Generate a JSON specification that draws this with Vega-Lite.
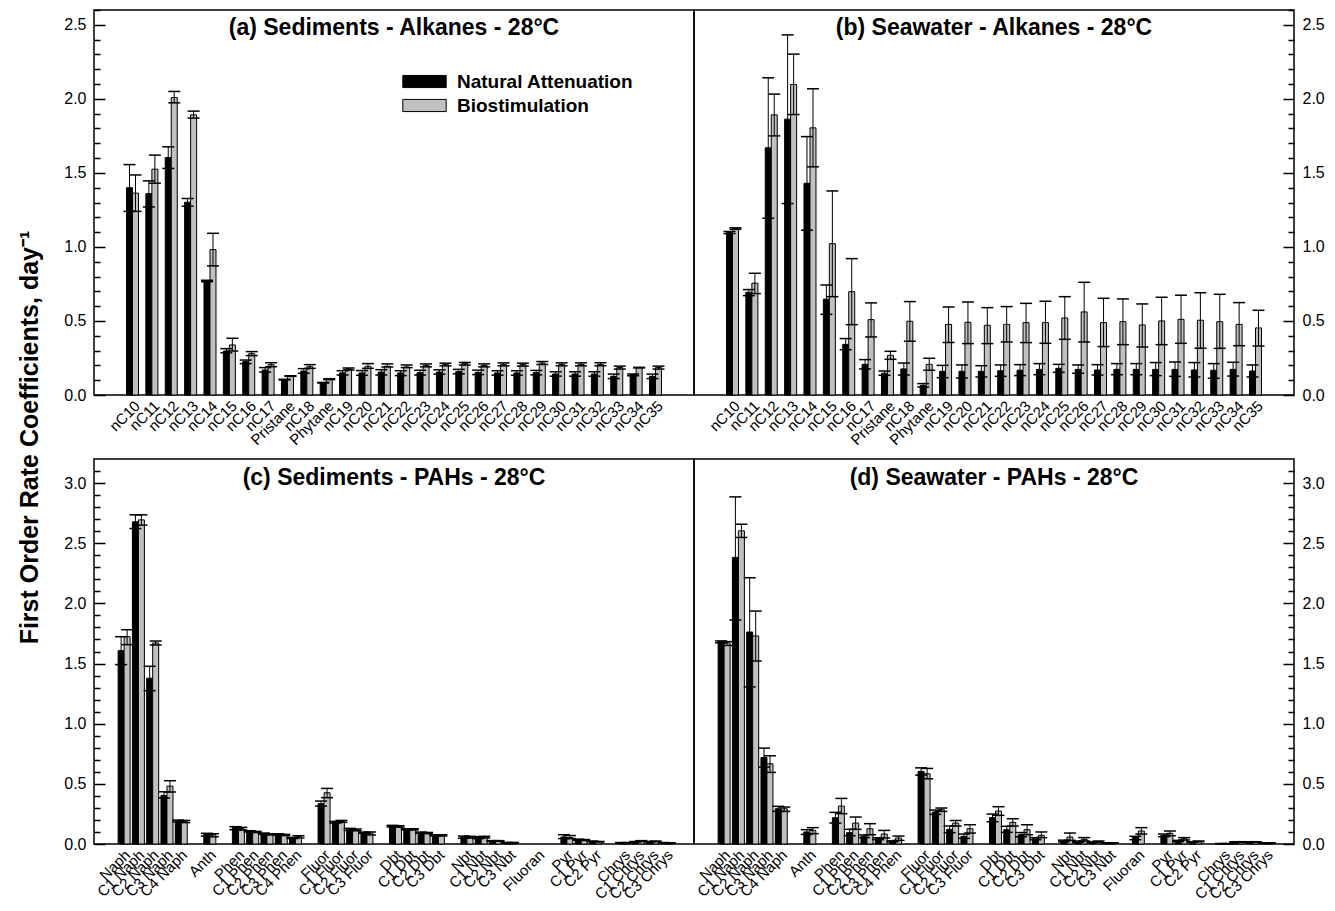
{
"$schema": "https://vega.github.io/schema/vega-lite/v6.json",
"background": "white",
"padding": {"left": 18, "top": 8, "right": 5, "bottom": 0},
"autosize": {"type": "pad"},
"config": {
  "font": "Liberation Sans",
  "view": {"stroke": "black", "strokeWidth": 1.5},
  "axis": {"labelColor": "black", "tickColor": "black", "grid": false, "domain": false}
},
"title": {"text": "First Order Rate Coefficients, day⁻¹", "orient": "left", "anchor": "middle", "fontSize": 25, "fontWeight": "bold", "font": "Liberation Sans", "color": "black", "offset": 20, "frame": "bounds", "dx": 18},
"datasets": {
"sedAlk": [
{"compound":"nC10","series":"Natural Attenuation","k":1.40,"lo":1.24,"hi":1.556},{"compound":"nC10","series":"Biostimulation","k":1.363,"lo":1.24,"hi":1.486},
{"compound":"nC11","series":"Natural Attenuation","k":1.36,"lo":1.27,"hi":1.446},{"compound":"nC11","series":"Biostimulation","k":1.525,"lo":1.43,"hi":1.62},
{"compound":"nC12","series":"Natural Attenuation","k":1.604,"lo":1.53,"hi":1.676},{"compound":"nC12","series":"Biostimulation","k":2.009,"lo":1.973,"hi":2.05},
{"compound":"nC13","series":"Natural Attenuation","k":1.302,"lo":1.275,"hi":1.327},{"compound":"nC13","series":"Biostimulation","k":1.892,"lo":1.87,"hi":1.917},
{"compound":"nC14","series":"Natural Attenuation","k":0.77,"lo":0.765,"hi":0.775},{"compound":"nC14","series":"Biostimulation","k":0.982,"lo":0.872,"hi":1.092},
{"compound":"nC15","series":"Natural Attenuation","k":0.297,"lo":0.285,"hi":0.313},{"compound":"nC15","series":"Biostimulation","k":0.338,"lo":0.297,"hi":0.383},
{"compound":"nC16","series":"Natural Attenuation","k":0.225,"lo":0.212,"hi":0.236},{"compound":"nC16","series":"Biostimulation","k":0.279,"lo":0.266,"hi":0.293},
{"compound":"nC17","series":"Natural Attenuation","k":0.169,"lo":0.155,"hi":0.185},{"compound":"nC17","series":"Biostimulation","k":0.205,"lo":0.191,"hi":0.218},
{"compound":"Pristane","series":"Natural Attenuation","k":0.104,"lo":0.102,"hi":0.106},{"compound":"Pristane","series":"Biostimulation","k":0.128,"lo":0.126,"hi":0.13},
{"compound":"nC18","series":"Natural Attenuation","k":0.162,"lo":0.147,"hi":0.178},{"compound":"nC18","series":"Biostimulation","k":0.191,"lo":0.18,"hi":0.205},
{"compound":"Phytane","series":"Natural Attenuation","k":0.083,"lo":0.081,"hi":0.085},{"compound":"Phytane","series":"Biostimulation","k":0.106,"lo":0.104,"hi":0.11},
{"compound":"nC19","series":"Natural Attenuation","k":0.149,"lo":0.135,"hi":0.164},{"compound":"nC19","series":"Biostimulation","k":0.176,"lo":0.169,"hi":0.183},
{"compound":"nC20","series":"Natural Attenuation","k":0.149,"lo":0.133,"hi":0.165},{"compound":"nC20","series":"Biostimulation","k":0.194,"lo":0.18,"hi":0.212},
{"compound":"nC21","series":"Natural Attenuation","k":0.155,"lo":0.135,"hi":0.171},{"compound":"nC21","series":"Biostimulation","k":0.194,"lo":0.189,"hi":0.21},
{"compound":"nC22","series":"Natural Attenuation","k":0.149,"lo":0.131,"hi":0.164},{"compound":"nC22","series":"Biostimulation","k":0.189,"lo":0.185,"hi":0.203},
{"compound":"nC23","series":"Natural Attenuation","k":0.151,"lo":0.135,"hi":0.167},{"compound":"nC23","series":"Biostimulation","k":0.2,"lo":0.19,"hi":0.21},
{"compound":"nC24","series":"Natural Attenuation","k":0.155,"lo":0.14,"hi":0.17},{"compound":"nC24","series":"Biostimulation","k":0.207,"lo":0.197,"hi":0.215},
{"compound":"nC25","series":"Natural Attenuation","k":0.158,"lo":0.143,"hi":0.173},{"compound":"nC25","series":"Biostimulation","k":0.212,"lo":0.202,"hi":0.22},
{"compound":"nC26","series":"Natural Attenuation","k":0.153,"lo":0.138,"hi":0.168},{"compound":"nC26","series":"Biostimulation","k":0.2,"lo":0.19,"hi":0.21},
{"compound":"nC27","series":"Natural Attenuation","k":0.149,"lo":0.134,"hi":0.164},{"compound":"nC27","series":"Biostimulation","k":0.207,"lo":0.197,"hi":0.217},
{"compound":"nC28","series":"Natural Attenuation","k":0.149,"lo":0.134,"hi":0.164},{"compound":"nC28","series":"Biostimulation","k":0.205,"lo":0.195,"hi":0.215},
{"compound":"nC29","series":"Natural Attenuation","k":0.151,"lo":0.136,"hi":0.166},{"compound":"nC29","series":"Biostimulation","k":0.216,"lo":0.206,"hi":0.226},
{"compound":"nC30","series":"Natural Attenuation","k":0.142,"lo":0.127,"hi":0.157},{"compound":"nC30","series":"Biostimulation","k":0.207,"lo":0.197,"hi":0.217},
{"compound":"nC31","series":"Natural Attenuation","k":0.142,"lo":0.127,"hi":0.157},{"compound":"nC31","series":"Biostimulation","k":0.207,"lo":0.197,"hi":0.217},
{"compound":"nC32","series":"Natural Attenuation","k":0.142,"lo":0.127,"hi":0.157},{"compound":"nC32","series":"Biostimulation","k":0.207,"lo":0.197,"hi":0.217},
{"compound":"nC33","series":"Natural Attenuation","k":0.126,"lo":0.111,"hi":0.141},{"compound":"nC33","series":"Biostimulation","k":0.185,"lo":0.175,"hi":0.195},
{"compound":"nC34","series":"Natural Attenuation","k":0.137,"lo":0.13,"hi":0.142},{"compound":"nC34","series":"Biostimulation","k":0.185,"lo":0.183,"hi":0.187},
{"compound":"nC35","series":"Natural Attenuation","k":0.126,"lo":0.111,"hi":0.141},{"compound":"nC35","series":"Biostimulation","k":0.185,"lo":0.175,"hi":0.195}
],
"seaAlk": [
{"compound":"nC10","series":"Natural Attenuation","k":1.097,"lo":1.09,"hi":1.104},{"compound":"nC10","series":"Biostimulation","k":1.124,"lo":1.119,"hi":1.129},
{"compound":"nC11","series":"Natural Attenuation","k":0.694,"lo":0.671,"hi":0.712},{"compound":"nC11","series":"Biostimulation","k":0.755,"lo":0.685,"hi":0.822},
{"compound":"nC12","series":"Natural Attenuation","k":1.669,"lo":1.194,"hi":2.142},{"compound":"nC12","series":"Biostimulation","k":1.892,"lo":1.75,"hi":2.032},
{"compound":"nC13","series":"Natural Attenuation","k":1.863,"lo":1.293,"hi":2.432},{"compound":"nC13","series":"Biostimulation","k":2.097,"lo":1.894,"hi":2.302},
{"compound":"nC14","series":"Natural Attenuation","k":1.43,"lo":1.113,"hi":1.745},{"compound":"nC14","series":"Biostimulation","k":1.804,"lo":1.541,"hi":2.068},
{"compound":"nC15","series":"Natural Attenuation","k":0.647,"lo":0.545,"hi":0.743},{"compound":"nC15","series":"Biostimulation","k":1.022,"lo":0.664,"hi":1.378},
{"compound":"nC16","series":"Natural Attenuation","k":0.342,"lo":0.306,"hi":0.381},{"compound":"nC16","series":"Biostimulation","k":0.698,"lo":0.475,"hi":0.921},
{"compound":"nC17","series":"Natural Attenuation","k":0.207,"lo":0.176,"hi":0.239},{"compound":"nC17","series":"Biostimulation","k":0.509,"lo":0.392,"hi":0.622},
{"compound":"Pristane","series":"Natural Attenuation","k":0.147,"lo":0.133,"hi":0.162},{"compound":"Pristane","series":"Biostimulation","k":0.268,"lo":0.241,"hi":0.295},
{"compound":"nC18","series":"Natural Attenuation","k":0.176,"lo":0.135,"hi":0.216},{"compound":"nC18","series":"Biostimulation","k":0.498,"lo":0.363,"hi":0.631},
{"compound":"Phytane","series":"Natural Attenuation","k":0.065,"lo":0.054,"hi":0.077},{"compound":"Phytane","series":"Biostimulation","k":0.207,"lo":0.167,"hi":0.248},
{"compound":"nC19","series":"Natural Attenuation","k":0.16,"lo":0.117,"hi":0.2},{"compound":"nC19","series":"Biostimulation","k":0.477,"lo":0.354,"hi":0.595},
{"compound":"nC20","series":"Natural Attenuation","k":0.16,"lo":0.115,"hi":0.203},{"compound":"nC20","series":"Biostimulation","k":0.491,"lo":0.347,"hi":0.628},
{"compound":"nC21","series":"Natural Attenuation","k":0.16,"lo":0.122,"hi":0.198},{"compound":"nC21","series":"Biostimulation","k":0.471,"lo":0.347,"hi":0.59},
{"compound":"nC22","series":"Natural Attenuation","k":0.164,"lo":0.126,"hi":0.203},{"compound":"nC22","series":"Biostimulation","k":0.477,"lo":0.358,"hi":0.597},
{"compound":"nC23","series":"Natural Attenuation","k":0.167,"lo":0.131,"hi":0.205},{"compound":"nC23","series":"Biostimulation","k":0.489,"lo":0.354,"hi":0.619},
{"compound":"nC24","series":"Natural Attenuation","k":0.173,"lo":0.137,"hi":0.212},{"compound":"nC24","series":"Biostimulation","k":0.489,"lo":0.349,"hi":0.633},
{"compound":"nC25","series":"Natural Attenuation","k":0.18,"lo":0.153,"hi":0.207},{"compound":"nC25","series":"Biostimulation","k":0.52,"lo":0.376,"hi":0.664},
{"compound":"nC26","series":"Natural Attenuation","k":0.173,"lo":0.147,"hi":0.203},{"compound":"nC26","series":"Biostimulation","k":0.561,"lo":0.358,"hi":0.761},
{"compound":"nC27","series":"Natural Attenuation","k":0.169,"lo":0.135,"hi":0.205},{"compound":"nC27","series":"Biostimulation","k":0.489,"lo":0.327,"hi":0.653},
{"compound":"nC28","series":"Natural Attenuation","k":0.173,"lo":0.137,"hi":0.212},{"compound":"nC28","series":"Biostimulation","k":0.495,"lo":0.34,"hi":0.649},
{"compound":"nC29","series":"Natural Attenuation","k":0.173,"lo":0.137,"hi":0.212},{"compound":"nC29","series":"Biostimulation","k":0.473,"lo":0.324,"hi":0.615},
{"compound":"nC30","series":"Natural Attenuation","k":0.173,"lo":0.131,"hi":0.219},{"compound":"nC30","series":"Biostimulation","k":0.5,"lo":0.34,"hi":0.66},
{"compound":"nC31","series":"Natural Attenuation","k":0.173,"lo":0.126,"hi":0.223},{"compound":"nC31","series":"Biostimulation","k":0.511,"lo":0.349,"hi":0.674},
{"compound":"nC32","series":"Natural Attenuation","k":0.169,"lo":0.122,"hi":0.219},{"compound":"nC32","series":"Biostimulation","k":0.505,"lo":0.315,"hi":0.691},
{"compound":"nC33","series":"Natural Attenuation","k":0.167,"lo":0.113,"hi":0.212},{"compound":"nC33","series":"Biostimulation","k":0.495,"lo":0.315,"hi":0.68},
{"compound":"nC34","series":"Natural Attenuation","k":0.173,"lo":0.128,"hi":0.221},{"compound":"nC34","series":"Biostimulation","k":0.477,"lo":0.333,"hi":0.624},
{"compound":"nC35","series":"Natural Attenuation","k":0.162,"lo":0.122,"hi":0.203},{"compound":"nC35","series":"Biostimulation","k":0.453,"lo":0.331,"hi":0.572}
],
"sedPAH": [
{"compound":"Naph","series":"Natural Attenuation","k":1.607,"lo":1.491,"hi":1.723},{"compound":"Naph","series":"Biostimulation","k":1.723,"lo":1.657,"hi":1.781},
{"compound":"C1 Naph","series":"Natural Attenuation","k":2.678,"lo":2.622,"hi":2.736},{"compound":"C1 Naph","series":"Biostimulation","k":2.694,"lo":2.65,"hi":2.736},
{"compound":"C2 Naph","series":"Natural Attenuation","k":1.378,"lo":1.275,"hi":1.477},{"compound":"C2 Naph","series":"Biostimulation","k":1.671,"lo":1.654,"hi":1.687},
{"compound":"C3 Naph","series":"Natural Attenuation","k":0.404,"lo":0.382,"hi":0.434},{"compound":"C3 Naph","series":"Biostimulation","k":0.481,"lo":0.432,"hi":0.526},
{"compound":"C4 Naph","series":"Natural Attenuation","k":0.191,"lo":0.183,"hi":0.199},{"compound":"C4 Naph","series":"Biostimulation","k":0.188,"lo":0.178,"hi":0.196},
{"compound":"Anth","series":"Natural Attenuation","k":0.08,"lo":0.066,"hi":0.089},{"compound":"Anth","series":"Biostimulation","k":0.077,"lo":0.06,"hi":0.085},
{"compound":"Phen","series":"Natural Attenuation","k":0.136,"lo":0.119,"hi":0.144},{"compound":"Phen","series":"Biostimulation","k":0.127,"lo":0.116,"hi":0.138},
{"compound":"C1 Phen","series":"Natural Attenuation","k":0.105,"lo":0.1,"hi":0.11},{"compound":"C1 Phen","series":"Biostimulation","k":0.1,"lo":0.095,"hi":0.105},
{"compound":"C2 Phen","series":"Natural Attenuation","k":0.086,"lo":0.081,"hi":0.091},{"compound":"C2 Phen","series":"Biostimulation","k":0.08,"lo":0.075,"hi":0.085},
{"compound":"C3 Phen","series":"Natural Attenuation","k":0.08,"lo":0.075,"hi":0.085},{"compound":"C3 Phen","series":"Biostimulation","k":0.075,"lo":0.07,"hi":0.08},
{"compound":"C4 Phen","series":"Natural Attenuation","k":0.05,"lo":0.045,"hi":0.055},{"compound":"C4 Phen","series":"Biostimulation","k":0.061,"lo":0.05,"hi":0.069},
{"compound":"Fluor","series":"Natural Attenuation","k":0.335,"lo":0.315,"hi":0.357},{"compound":"Fluor","series":"Biostimulation","k":0.426,"lo":0.385,"hi":0.462},
{"compound":"C1 Fluor","series":"Natural Attenuation","k":0.183,"lo":0.174,"hi":0.188},{"compound":"C1 Fluor","series":"Biostimulation","k":0.188,"lo":0.18,"hi":0.196},
{"compound":"C2 Fluor","series":"Natural Attenuation","k":0.122,"lo":0.113,"hi":0.13},{"compound":"C2 Fluor","series":"Biostimulation","k":0.119,"lo":0.11,"hi":0.125},
{"compound":"C3 Fluor","series":"Natural Attenuation","k":0.094,"lo":0.089,"hi":0.099},{"compound":"C3 Fluor","series":"Biostimulation","k":0.091,"lo":0.075,"hi":0.1},
{"compound":"Dbt","series":"Natural Attenuation","k":0.149,"lo":0.142,"hi":0.155},{"compound":"Dbt","series":"Biostimulation","k":0.147,"lo":0.14,"hi":0.152},
{"compound":"C1 Dbt","series":"Natural Attenuation","k":0.122,"lo":0.117,"hi":0.127},{"compound":"C1 Dbt","series":"Biostimulation","k":0.122,"lo":0.117,"hi":0.127},
{"compound":"C2 Dbt","series":"Natural Attenuation","k":0.094,"lo":0.089,"hi":0.099},{"compound":"C2 Dbt","series":"Biostimulation","k":0.091,"lo":0.086,"hi":0.096},
{"compound":"C3 Dbt","series":"Natural Attenuation","k":0.072,"lo":0.067,"hi":0.077},{"compound":"C3 Dbt","series":"Biostimulation","k":0.072,"lo":0.067,"hi":0.077},
{"compound":"Nbt","series":"Natural Attenuation","k":0.058,"lo":0.048,"hi":0.066},{"compound":"Nbt","series":"Biostimulation","k":0.058,"lo":0.05,"hi":0.064},
{"compound":"C1 Nbt","series":"Natural Attenuation","k":0.053,"lo":0.045,"hi":0.06},{"compound":"C1 Nbt","series":"Biostimulation","k":0.058,"lo":0.05,"hi":0.064},
{"compound":"C2 Nbt","series":"Natural Attenuation","k":0.025,"lo":0.022,"hi":0.028},{"compound":"C2 Nbt","series":"Biostimulation","k":0.025,"lo":0.022,"hi":0.028},
{"compound":"C3 Nbt","series":"Natural Attenuation","k":0.011,"lo":0.009,"hi":0.013},{"compound":"C3 Nbt","series":"Biostimulation","k":0.011,"lo":0.009,"hi":0.013},
{"compound":"Pyr","series":"Natural Attenuation","k":0.058,"lo":0.045,"hi":0.077},{"compound":"Pyr","series":"Biostimulation","k":0.053,"lo":0.045,"hi":0.07},
{"compound":"C1 Pyr","series":"Natural Attenuation","k":0.036,"lo":0.032,"hi":0.04},{"compound":"C1 Pyr","series":"Biostimulation","k":0.033,"lo":0.029,"hi":0.037},
{"compound":"C2 Pyr","series":"Natural Attenuation","k":0.022,"lo":0.02,"hi":0.024},{"compound":"C2 Pyr","series":"Biostimulation","k":0.019,"lo":0.017,"hi":0.021},
{"compound":"Chrys","series":"Natural Attenuation","k":0.011,"lo":0.01,"hi":0.012},{"compound":"Chrys","series":"Biostimulation","k":0.011,"lo":0.01,"hi":0.012},
{"compound":"C1 Chrys","series":"Natural Attenuation","k":0.019,"lo":0.017,"hi":0.021},{"compound":"C1 Chrys","series":"Biostimulation","k":0.025,"lo":0.022,"hi":0.028},
{"compound":"C2 Chrys","series":"Natural Attenuation","k":0.019,"lo":0.017,"hi":0.021},{"compound":"C2 Chrys","series":"Biostimulation","k":0.022,"lo":0.02,"hi":0.024},
{"compound":"C3 Chrys","series":"Natural Attenuation","k":0.011,"lo":0.01,"hi":0.012},{"compound":"C3 Chrys","series":"Biostimulation","k":0.008,"lo":0.007,"hi":0.009}
],
"seaPAH": [
{"compound":"Naph","series":"Natural Attenuation","k":1.682,"lo":1.672,"hi":1.688},{"compound":"Naph","series":"Biostimulation","k":1.671,"lo":1.65,"hi":1.682},
{"compound":"C1 Naph","series":"Natural Attenuation","k":2.382,"lo":1.862,"hi":2.885},{"compound":"C1 Naph","series":"Biostimulation","k":2.603,"lo":2.548,"hi":2.658},
{"compound":"C2 Naph","series":"Natural Attenuation","k":1.762,"lo":1.306,"hi":2.213},{"compound":"C2 Naph","series":"Biostimulation","k":1.729,"lo":1.521,"hi":1.936},
{"compound":"C3 Naph","series":"Natural Attenuation","k":0.719,"lo":0.639,"hi":0.797},{"compound":"C3 Naph","series":"Biostimulation","k":0.667,"lo":0.595,"hi":0.733},
{"compound":"C4 Naph","series":"Natural Attenuation","k":0.293,"lo":0.271,"hi":0.313},{"compound":"C4 Naph","series":"Biostimulation","k":0.293,"lo":0.271,"hi":0.307},
{"compound":"Anth","series":"Natural Attenuation","k":0.1,"lo":0.08,"hi":0.119},{"compound":"Anth","series":"Biostimulation","k":0.113,"lo":0.086,"hi":0.136},
{"compound":"Phen","series":"Natural Attenuation","k":0.219,"lo":0.174,"hi":0.263},{"compound":"Phen","series":"Biostimulation","k":0.315,"lo":0.252,"hi":0.379},
{"compound":"C1 Phen","series":"Natural Attenuation","k":0.094,"lo":0.069,"hi":0.122},{"compound":"C1 Phen","series":"Biostimulation","k":0.174,"lo":0.122,"hi":0.224},
{"compound":"C2 Phen","series":"Natural Attenuation","k":0.064,"lo":0.053,"hi":0.075},{"compound":"C2 Phen","series":"Biostimulation","k":0.127,"lo":0.077,"hi":0.169},
{"compound":"C3 Phen","series":"Natural Attenuation","k":0.044,"lo":0.036,"hi":0.052},{"compound":"C3 Phen","series":"Biostimulation","k":0.083,"lo":0.05,"hi":0.113},
{"compound":"C4 Phen","series":"Natural Attenuation","k":0.022,"lo":0.018,"hi":0.026},{"compound":"C4 Phen","series":"Biostimulation","k":0.05,"lo":0.03,"hi":0.066},
{"compound":"Fluor","series":"Natural Attenuation","k":0.603,"lo":0.573,"hi":0.633},{"compound":"Fluor","series":"Biostimulation","k":0.584,"lo":0.542,"hi":0.628},
{"compound":"C1 Fluor","series":"Natural Attenuation","k":0.266,"lo":0.246,"hi":0.282},{"compound":"C1 Fluor","series":"Biostimulation","k":0.285,"lo":0.271,"hi":0.299},
{"compound":"C2 Fluor","series":"Natural Attenuation","k":0.122,"lo":0.094,"hi":0.149},{"compound":"C2 Fluor","series":"Biostimulation","k":0.174,"lo":0.149,"hi":0.196},
{"compound":"C3 Fluor","series":"Natural Attenuation","k":0.064,"lo":0.047,"hi":0.083},{"compound":"C3 Fluor","series":"Biostimulation","k":0.127,"lo":0.091,"hi":0.16},
{"compound":"Dbt","series":"Natural Attenuation","k":0.219,"lo":0.185,"hi":0.249},{"compound":"Dbt","series":"Biostimulation","k":0.274,"lo":0.238,"hi":0.31},
{"compound":"C1 Dbt","series":"Natural Attenuation","k":0.119,"lo":0.097,"hi":0.147},{"compound":"C1 Dbt","series":"Biostimulation","k":0.18,"lo":0.149,"hi":0.21},
{"compound":"C2 Dbt","series":"Natural Attenuation","k":0.077,"lo":0.06,"hi":0.095},{"compound":"C2 Dbt","series":"Biostimulation","k":0.119,"lo":0.077,"hi":0.16},
{"compound":"C3 Dbt","series":"Natural Attenuation","k":0.044,"lo":0.035,"hi":0.053},{"compound":"C3 Dbt","series":"Biostimulation","k":0.072,"lo":0.053,"hi":0.1},
{"compound":"Nbt","series":"Natural Attenuation","k":0.025,"lo":0.018,"hi":0.032},{"compound":"Nbt","series":"Biostimulation","k":0.058,"lo":0.03,"hi":0.091},
{"compound":"C1 Nbt","series":"Natural Attenuation","k":0.019,"lo":0.014,"hi":0.024},{"compound":"C1 Nbt","series":"Biostimulation","k":0.039,"lo":0.025,"hi":0.053},
{"compound":"C2 Nbt","series":"Natural Attenuation","k":0.014,"lo":0.011,"hi":0.017},{"compound":"C2 Nbt","series":"Biostimulation","k":0.019,"lo":0.014,"hi":0.025},
{"compound":"C3 Nbt","series":"Natural Attenuation","k":0.008,"lo":0.006,"hi":0.01},{"compound":"C3 Nbt","series":"Biostimulation","k":0.008,"lo":0.006,"hi":0.01},
{"compound":"Fluoran","series":"Natural Attenuation","k":0.053,"lo":0.036,"hi":0.064},{"compound":"Fluoran","series":"Biostimulation","k":0.108,"lo":0.083,"hi":0.136},
{"compound":"Pyr","series":"Natural Attenuation","k":0.072,"lo":0.061,"hi":0.083},{"compound":"Pyr","series":"Biostimulation","k":0.089,"lo":0.069,"hi":0.108},
{"compound":"C1 Pyr","series":"Natural Attenuation","k":0.025,"lo":0.02,"hi":0.03},{"compound":"C1 Pyr","series":"Biostimulation","k":0.044,"lo":0.033,"hi":0.053},
{"compound":"C2 Pyr","series":"Natural Attenuation","k":0.017,"lo":0.015,"hi":0.019},{"compound":"C2 Pyr","series":"Biostimulation","k":0.022,"lo":0.019,"hi":0.025},
{"compound":"Chrys","series":"Natural Attenuation","k":0.003,"lo":0.002,"hi":0.004},{"compound":"Chrys","series":"Biostimulation","k":0.003,"lo":0.002,"hi":0.004},
{"compound":"C1 Chrys","series":"Natural Attenuation","k":0.017,"lo":0.015,"hi":0.019},{"compound":"C1 Chrys","series":"Biostimulation","k":0.017,"lo":0.015,"hi":0.019},
{"compound":"C2 Chrys","series":"Natural Attenuation","k":0.017,"lo":0.015,"hi":0.019},{"compound":"C2 Chrys","series":"Biostimulation","k":0.017,"lo":0.015,"hi":0.019},
{"compound":"C3 Chrys","series":"Natural Attenuation","k":0.008,"lo":0.007,"hi":0.009},{"compound":"C3 Chrys","series":"Biostimulation","k":0.008,"lo":0.007,"hi":0.009}
]
},
"vconcat": [
{"hconcat": [
 {"data": {"name": "sedAlk"}, "width": 600, "height": 385,
  "title": {"text": "(a) Sediments - Alkanes - 28°C", "fontSize": 23, "fontWeight": "bold", "color": "black", "offset": -49, "baseline": "alphabetic", "anchor": "middle", "frame": "group"},
  "encoding": {
   "x": {"field": "compound", "type": "nominal", "scale": {"domain": ["gapL","nC10","nC11","nC12","nC13","nC14","nC15","nC16","nC17","Pristane","nC18","Phytane","nC19","nC20","nC21","nC22","nC23","nC24","nC25","nC26","nC27","nC28","nC29","nC30","nC31","nC32","nC33","nC34","nC35","gapR"], "paddingInner": 0.38, "paddingOuter": 0.678, "round": false}, "axis": {"title": null, "labelAngle": -45, "labelFontSize": 15, "labelPadding": 3, "ticks": false, "domain": false, "labelOverlap": false, "labelExpr": "indexof(datum.value, 'gap') == 0 ? '' : datum.value"}},
   "xOffset": {"field": "series", "type": "nominal", "scale": {"domain": ["Natural Attenuation","Biostimulation"], "paddingInner": 0, "paddingOuter": 0}}
  },
  "layer": [
   {"mark": {"type": "bar", "stroke": "black", "strokeWidth": 1}, "encoding": {
     "y": {"field": "k", "type": "quantitative", "scale": {"domain": [0, 2.6], "nice": false, "zero": true}, "axis": {"orient": "left", "title": null, "values": [0,0.5,1,1.5,2,2.5], "format": ".1f", "tickSize": -11, "tickWidth": 1.5, "labelPadding": 19, "labelFontSize": 16, "labelFlush": false}},
     "color": {"field": "series", "type": "nominal", "scale": {"domain": ["Natural Attenuation","Biostimulation"], "range": ["#000000","#c0c0c0"]},
       "legend": {"orient": "none", "legendX": 319, "legendY": 60, "direction": "vertical", "title": null, "symbolType": "M-2,-0.56H2V0.56H-2Z", "symbolSize": 471, "symbolStrokeColor": "black", "symbolStrokeWidth": 1, "symbolOpacity": 1, "labelFontSize": 19, "labelFontWeight": "bold", "labelColor": "black", "labelOffset": 21, "labelLimit": 400, "rowPadding": 2, "padding": 0}}}},
   {"mark": {"type": "rule", "color": "black", "strokeWidth": 1}, "encoding": {
     "y": {"field": "lo", "type": "quantitative", "axis": {"orient": "left", "title": null, "values": [0.1,0.2,0.3,0.4,0.6,0.7,0.8,0.9,1.1,1.2,1.3,1.4,1.6,1.7,1.8,1.9,2.1,2.2,2.3,2.4,2.6], "labels": false, "tickSize": -6, "tickWidth": 1.5}},
     "y2": {"field": "hi"}}},
   {"mark": {"type": "tick", "color": "black", "thickness": 1.5, "size": 12, "opacity": 1}, "encoding": {"y": {"field": "lo", "type": "quantitative", "axis": null}}},
   {"mark": {"type": "tick", "color": "black", "thickness": 1.5, "size": 12, "opacity": 1}, "encoding": {"y": {"field": "hi", "type": "quantitative", "axis": null}}}
  ],
  "resolve": {"axis": {"y": "independent"}}
 },
 {"data": {"name": "seaAlk"}, "width": 600, "height": 385,
  "title": {"text": "(b) Seawater - Alkanes - 28°C", "fontSize": 23, "fontWeight": "bold", "color": "black", "offset": -49, "baseline": "alphabetic", "anchor": "middle", "frame": "group"},
  "encoding": {
   "x": {"field": "compound", "type": "nominal", "scale": {"domain": ["gapL","nC10","nC11","nC12","nC13","nC14","nC15","nC16","nC17","Pristane","nC18","Phytane","nC19","nC20","nC21","nC22","nC23","nC24","nC25","nC26","nC27","nC28","nC29","nC30","nC31","nC32","nC33","nC34","nC35","gapR"], "paddingInner": 0.38, "paddingOuter": 0.678, "round": false}, "axis": {"title": null, "labelAngle": -45, "labelFontSize": 15, "labelPadding": 3, "ticks": false, "domain": false, "labelOverlap": false, "labelExpr": "indexof(datum.value, 'gap') == 0 ? '' : datum.value"}},
   "xOffset": {"field": "series", "type": "nominal", "scale": {"domain": ["Natural Attenuation","Biostimulation"], "paddingInner": 0, "paddingOuter": 0}}
  },
  "layer": [
   {"mark": {"type": "bar", "stroke": "black", "strokeWidth": 1}, "encoding": {
     "y": {"field": "k", "type": "quantitative", "scale": {"domain": [0, 2.6], "nice": false, "zero": true}, "axis": {"orient": "right", "title": null, "values": [0,0.5,1,1.5,2,2.5], "format": ".1f", "tickSize": -11, "tickWidth": 1.5, "labelPadding": 19, "labelFontSize": 16, "labelFlush": false}},
     "color": {"field": "series", "type": "nominal", "scale": {"domain": ["Natural Attenuation","Biostimulation"], "range": ["#000000","#c0c0c0"]}, "legend": null}}},
   {"mark": {"type": "rule", "color": "black", "strokeWidth": 1}, "encoding": {
     "y": {"field": "lo", "type": "quantitative", "axis": {"orient": "right", "title": null, "values": [0.1,0.2,0.3,0.4,0.6,0.7,0.8,0.9,1.1,1.2,1.3,1.4,1.6,1.7,1.8,1.9,2.1,2.2,2.3,2.4,2.6], "labels": false, "tickSize": -6, "tickWidth": 1.5}},
     "y2": {"field": "hi"}}},
   {"mark": {"type": "tick", "color": "black", "thickness": 1.5, "size": 12, "opacity": 1}, "encoding": {"y": {"field": "lo", "type": "quantitative", "axis": null}}},
   {"mark": {"type": "tick", "color": "black", "thickness": 1.5, "size": 12, "opacity": 1}, "encoding": {"y": {"field": "hi", "type": "quantitative", "axis": null}}}
  ],
  "resolve": {"axis": {"y": "independent"}}
 }
], "spacing": 0, "bounds": "flush", "resolve": {"scale": {"color": "independent"}}},
{"hconcat": [
 {"data": {"name": "sedPAH"}, "width": 600, "height": 385,
  "title": {"text": "(c) Sediments - PAHs - 28°C", "fontSize": 23, "fontWeight": "bold", "color": "black", "offset": -49, "baseline": "alphabetic", "anchor": "middle", "frame": "group"},
  "encoding": {
   "x": {"field": "compound", "type": "nominal", "scale": {"domain": ["gapL","Naph","C1 Naph","C2 Naph","C3 Naph","C4 Naph","gap1","Anth","gap2","Phen","C1 Phen","C2 Phen","C3 Phen","C4 Phen","gap3","Fluor","C1 Fluor","C2 Fluor","C3 Fluor","gap4","Dbt","C1 Dbt","C2 Dbt","C3 Dbt","gap5","Nbt","C1 Nbt","C2 Nbt","C3 Nbt","gap6","Fluoran","gap7","Pyr","C1 Pyr","C2 Pyr","gap8","Chrys","C1 Chrys","C2 Chrys","C3 Chrys","gapR"], "paddingInner": 0.37, "paddingOuter": 0.688, "round": false}, "axis": {"title": null, "labelAngle": -45, "labelFontSize": 15, "labelPadding": 3, "ticks": false, "domain": false, "labelOverlap": false, "labelExpr": "indexof(datum.value, 'gap') == 0 ? '' : datum.value"}},
   "xOffset": {"field": "series", "type": "nominal", "scale": {"domain": ["Natural Attenuation","Biostimulation"], "paddingInner": 0, "paddingOuter": 0}}
  },
  "layer": [
   {"mark": {"type": "bar", "stroke": "black", "strokeWidth": 1}, "encoding": {
     "y": {"field": "k", "type": "quantitative", "scale": {"domain": [0, 3.2], "nice": false, "zero": true}, "axis": {"orient": "left", "title": null, "values": [0,0.5,1,1.5,2,2.5,3], "format": ".1f", "tickSize": -11, "tickWidth": 1.5, "labelPadding": 19, "labelFontSize": 16, "labelFlush": false}},
     "color": {"field": "series", "type": "nominal", "scale": {"domain": ["Natural Attenuation","Biostimulation"], "range": ["#000000","#c0c0c0"]}, "legend": null}}},
   {"mark": {"type": "rule", "color": "black", "strokeWidth": 1}, "encoding": {
     "y": {"field": "lo", "type": "quantitative", "axis": {"orient": "left", "title": null, "values": [0.1,0.2,0.3,0.4,0.6,0.7,0.8,0.9,1.1,1.2,1.3,1.4,1.6,1.7,1.8,1.9,2.1,2.2,2.3,2.4,2.6,2.7,2.8,2.9,3.1], "labels": false, "tickSize": -6, "tickWidth": 1.5}},
     "y2": {"field": "hi"}}},
   {"mark": {"type": "tick", "color": "black", "thickness": 1.5, "size": 12, "opacity": 1}, "encoding": {"y": {"field": "lo", "type": "quantitative", "axis": null}}},
   {"mark": {"type": "tick", "color": "black", "thickness": 1.5, "size": 12, "opacity": 1}, "encoding": {"y": {"field": "hi", "type": "quantitative", "axis": null}}}
  ],
  "resolve": {"axis": {"y": "independent"}}
 },
 {"data": {"name": "seaPAH"}, "width": 600, "height": 385,
  "title": {"text": "(d) Seawater - PAHs - 28°C", "fontSize": 23, "fontWeight": "bold", "color": "black", "offset": -49, "baseline": "alphabetic", "anchor": "middle", "frame": "group"},
  "encoding": {
   "x": {"field": "compound", "type": "nominal", "scale": {"domain": ["gapL","Naph","C1 Naph","C2 Naph","C3 Naph","C4 Naph","gap1","Anth","gap2","Phen","C1 Phen","C2 Phen","C3 Phen","C4 Phen","gap3","Fluor","C1 Fluor","C2 Fluor","C3 Fluor","gap4","Dbt","C1 Dbt","C2 Dbt","C3 Dbt","gap5","Nbt","C1 Nbt","C2 Nbt","C3 Nbt","gap6","Fluoran","gap7","Pyr","C1 Pyr","C2 Pyr","gap8","Chrys","C1 Chrys","C2 Chrys","C3 Chrys","gapR"], "paddingInner": 0.37, "paddingOuter": 0.688, "round": false}, "axis": {"title": null, "labelAngle": -45, "labelFontSize": 15, "labelPadding": 3, "ticks": false, "domain": false, "labelOverlap": false, "labelExpr": "indexof(datum.value, 'gap') == 0 ? '' : datum.value"}},
   "xOffset": {"field": "series", "type": "nominal", "scale": {"domain": ["Natural Attenuation","Biostimulation"], "paddingInner": 0, "paddingOuter": 0}}
  },
  "layer": [
   {"mark": {"type": "bar", "stroke": "black", "strokeWidth": 1}, "encoding": {
     "y": {"field": "k", "type": "quantitative", "scale": {"domain": [0, 3.2], "nice": false, "zero": true}, "axis": {"orient": "right", "title": null, "values": [0,0.5,1,1.5,2,2.5,3], "format": ".1f", "tickSize": -11, "tickWidth": 1.5, "labelPadding": 19, "labelFontSize": 16, "labelFlush": false}},
     "color": {"field": "series", "type": "nominal", "scale": {"domain": ["Natural Attenuation","Biostimulation"], "range": ["#000000","#c0c0c0"]}, "legend": null}}},
   {"mark": {"type": "rule", "color": "black", "strokeWidth": 1}, "encoding": {
     "y": {"field": "lo", "type": "quantitative", "axis": {"orient": "right", "title": null, "values": [0.1,0.2,0.3,0.4,0.6,0.7,0.8,0.9,1.1,1.2,1.3,1.4,1.6,1.7,1.8,1.9,2.1,2.2,2.3,2.4,2.6,2.7,2.8,2.9,3.1], "labels": false, "tickSize": -6, "tickWidth": 1.5}},
     "y2": {"field": "hi"}}},
   {"mark": {"type": "tick", "color": "black", "thickness": 1.5, "size": 12, "opacity": 1}, "encoding": {"y": {"field": "lo", "type": "quantitative", "axis": null}}},
   {"mark": {"type": "tick", "color": "black", "thickness": 1.5, "size": 12, "opacity": 1}, "encoding": {"y": {"field": "hi", "type": "quantitative", "axis": null}}}
  ],
  "resolve": {"axis": {"y": "independent"}}
 }
], "spacing": 0, "bounds": "flush", "resolve": {"scale": {"color": "independent"}}}
],
"spacing": 9,
"bounds": "full",
"resolve": {"scale": {"color": "independent"}}
}
